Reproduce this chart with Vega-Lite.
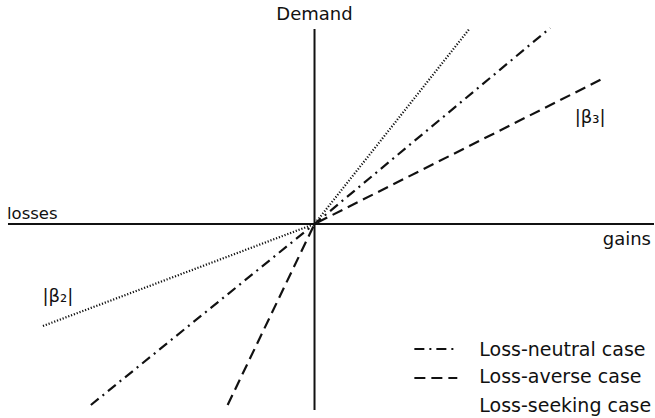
{
  "$schema": "https://vega.github.io/schema/vega-lite/v6.json",
  "width": 655,
  "height": 418,
  "autosize": {"type": "fit", "contains": "padding"},
  "padding": 0,
  "background": "white",
  "config": {"view": {"stroke": null}, "text": {"font": "DejaVu Sans", "fontSize": 18, "color": "#111", "baseline": "alphabetic"}},
  "datasets": {
    "lines": [
      {"case": "Loss-neutral case", "x": -2.24, "y": -1.81},
      {"case": "Loss-neutral case", "x": 0, "y": 0},
      {"case": "Loss-neutral case", "x": 2.36, "y": 1.96},
      {"case": "Loss-averse case", "x": -0.87, "y": -1.81},
      {"case": "Loss-averse case", "x": 0, "y": 0},
      {"case": "Loss-averse case", "x": 2.88, "y": 1.45},
      {"case": "Loss-seeking case", "x": -2.72, "y": -1.02},
      {"case": "Loss-seeking case", "x": 0, "y": 0},
      {"case": "Loss-seeking case", "x": 1.55, "y": 1.95}
    ],
    "axes": [
      {"axis": "gains/losses", "x": -3.07, "x2": 3.40, "y": 0, "y2": 0},
      {"axis": "Demand", "x": 0, "x2": 0, "y": 1.95, "y2": -1.86}
    ],
    "labels": [
      {"text": "Demand", "x": 0, "y": 2.04, "anchor": "center"},
      {"text": "losses", "x": -3.08, "y": 0.05, "anchor": "left"},
      {"text": "gains", "x": 3.37, "y": -0.21, "anchor": "right"},
      {"text": "|β₂|", "x": -2.57, "y": -0.78, "anchor": "center"},
      {"text": "|β₃|", "x": 2.76, "y": 1.01, "anchor": "center"}
    ],
    "legend": [
      {"case": "Loss-neutral case", "x": 1.00, "x2": 1.43, "y": -1.25, "tx": 1.65, "ty": -1.32},
      {"case": "Loss-averse case", "x": 1.00, "x2": 1.43, "y": -1.54, "tx": 1.65, "ty": -1.59},
      {"case": "Loss-seeking case", "x": 1.00, "x2": 1.43, "y": -1.81, "tx": 1.65, "ty": -1.88}
    ]
  },
  "layer": [
    {
      "data": {"name": "axes"},
      "mark": {"type": "rule", "color": "#111", "strokeWidth": 2},
      "encoding": {
        "x": {"field": "x", "type": "quantitative", "scale": {"domain": [-3.15, 3.40], "nice": false, "zero": false}, "axis": null},
        "x2": {"field": "x2"},
        "y": {"field": "y", "type": "quantitative", "scale": {"domain": [-1.94, 2.24], "nice": false, "zero": false}, "axis": null},
        "y2": {"field": "y2"}
      }
    },
    {
      "data": {"name": "lines"},
      "mark": {"type": "line", "color": "#111", "strokeCap": "butt"},
      "encoding": {
        "x": {"field": "x", "type": "quantitative", "scale": {"domain": [-3.15, 3.40], "nice": false, "zero": false}, "axis": null},
        "y": {"field": "y", "type": "quantitative", "scale": {"domain": [-1.94, 2.24], "nice": false, "zero": false}, "axis": null},
        "detail": {"field": "case", "type": "nominal"},
        "order": {"field": "x", "type": "quantitative"},
        "strokeDash": {"field": "case", "type": "nominal", "scale": {"domain": ["Loss-neutral case", "Loss-averse case", "Loss-seeking case"], "range": [[10, 5, 2, 5], [11, 6], [1.2, 1.8]]}, "legend": null},
        "strokeWidth": {"field": "case", "type": "nominal", "scale": {"domain": ["Loss-neutral case", "Loss-averse case", "Loss-seeking case"], "range": [2.2, 2.2, 1.2]}, "legend": null}
      }
    },
    {
      "data": {"name": "legend"},
      "mark": {"type": "rule", "color": "#111", "strokeWidth": 2.2, "strokeCap": "butt"},
      "encoding": {
        "x": {"field": "x", "type": "quantitative", "scale": {"domain": [-3.15, 3.40], "nice": false, "zero": false}, "axis": null},
        "x2": {"field": "x2"},
        "y": {"field": "y", "type": "quantitative", "scale": {"domain": [-1.94, 2.24], "nice": false, "zero": false}, "axis": null},
        "strokeDash": {"field": "case", "type": "nominal", "legend": null},
        "strokeOpacity": {"condition": {"test": "datum['case'] === 'Loss-seeking case'", "value": 0}, "value": 1}
      }
    },
    {
      "data": {"name": "legend"},
      "mark": {"type": "text", "align": "left", "fontSize": 19},
      "encoding": {
        "x": {"field": "tx", "type": "quantitative", "scale": {"domain": [-3.15, 3.40], "nice": false, "zero": false}, "axis": null},
        "y": {"field": "ty", "type": "quantitative", "scale": {"domain": [-1.94, 2.24], "nice": false, "zero": false}, "axis": null},
        "text": {"field": "case"}
      }
    },
    {
      "data": {"name": "labels"},
      "transform": [{"filter": "datum.anchor === 'left'"}],
      "mark": {"type": "text", "align": "left", "fontSize": 16.5},
      "encoding": {
        "x": {"field": "x", "type": "quantitative", "axis": null},
        "y": {"field": "y", "type": "quantitative", "axis": null},
        "text": {"field": "text"}
      }
    },
    {
      "data": {"name": "labels"},
      "transform": [{"filter": "datum.anchor === 'right'"}],
      "mark": {"type": "text", "align": "right"},
      "encoding": {
        "x": {"field": "x", "type": "quantitative", "axis": null},
        "y": {"field": "y", "type": "quantitative", "axis": null},
        "text": {"field": "text"}
      }
    },
    {
      "data": {"name": "labels"},
      "transform": [{"filter": "datum.anchor === 'center'"}],
      "mark": {"type": "text", "align": "center"},
      "encoding": {
        "x": {"field": "x", "type": "quantitative", "axis": null},
        "y": {"field": "y", "type": "quantitative", "axis": null},
        "text": {"field": "text"}
      }
    }
  ]
}
